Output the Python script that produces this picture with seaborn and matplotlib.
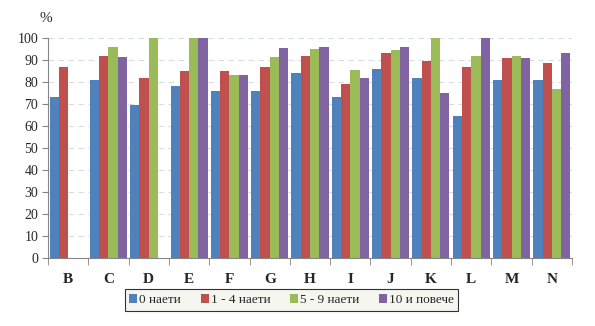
import numpy as np
import pandas as pd
import matplotlib
matplotlib.use("Agg")
import matplotlib.pyplot as plt
import seaborn as sns

categories = ["B", "C", "D", "E", "F", "G", "H", "I", "J", "K", "L", "M", "N"]
series_names = ["0 наети", "1 - 4 наети", "5 - 9 наети", "10 и повече"]
s0 = [73, 81, 69.5, 78, 76, 76, 84, 73, 86, 82, 64.5, 81, 81]
s1 = [87, 92, 82, 85, 85, 87, 92, 79, 93, 89.5, 87, 91, 88.5]
s2 = [np.nan, 96, 100, 100, 83, 91.5, 95, 85.5, 94.5, 100, 92, 92, 77]
s3 = [np.nan, 91.5, np.nan, 100, 83, 95.5, 96, 82, 96, 75, 100, 91, 93]
colors = ["#4F81BD", "#C0504D", "#9BBB59", "#8064A2"]

rows = []
for name, vals in zip(series_names, [s0, s1, s2, s3]):
    for c, v in zip(categories, vals):
        rows.append({"cat": c, "series": name, "val": v})
df = pd.DataFrame(rows)

sns.set_style("white")
plt.rcParams["font.family"] = ["Liberation Serif", "DejaVu Serif"]

fig = plt.figure(figsize=(5.95, 3.26), dpi=100)
ax = fig.add_axes([48/595, 68/326, 524/595, 220/326])
sns.barplot(data=df, x="cat", y="val", hue="series", order=categories,
            hue_order=series_names, palette=colors, width=0.92, gap=0,
            linewidth=0, saturation=1, ax=ax, legend=True, err_kws={"linewidth": 0})

ax.set_ylim(0, 100)
ax.set_yticks(range(0, 101, 10))
ax.set_xlim(-0.5, len(categories) - 0.5)
ax.yaxis.grid(True, linestyle=(0, (5, 4)), color="#D5DCE3", linewidth=0.8)
ax.set_axisbelow(True)
for s in ["top", "right"]:
    ax.spines[s].set_visible(False)
ax.spines["left"].set_color("#868686")
ax.spines["bottom"].set_color("#868686")
ax.set_xlabel("")
ax.set_ylabel("")
ax.tick_params(axis="y", labelsize=10, length=4, color="#868686", left=True, pad=3)
ax.set_xticks(np.arange(-0.5, len(categories), 1), minor=True)
ax.tick_params(axis="x", which="minor", length=5, color="#868686", bottom=True)
ax.tick_params(axis="x", which="major", length=0, labelsize=11, pad=11)
for lbl in ax.get_xticklabels():
    lbl.set_fontweight("bold")
ax.text(-0.005, 1.06, "%", transform=ax.transAxes, fontsize=11, ha="center", va="bottom")

handles, labels = ax.get_legend_handles_labels()
ax.legend_.remove()
leg = fig.legend(handles, labels, loc="center", bbox_to_anchor=(0.49, 1 - 300/326),
                 ncol=4, frameon=True, fancybox=False, fontsize=9.5, handlelength=0.6,
                 handleheight=0.6, handletextpad=0.15, columnspacing=1.5, borderpad=0.35,
                 edgecolor="black")
leg.get_frame().set_facecolor("#F4F4EE")
leg.get_frame().set_linewidth(0.8)

fig.savefig("out.png", dpi=100)
